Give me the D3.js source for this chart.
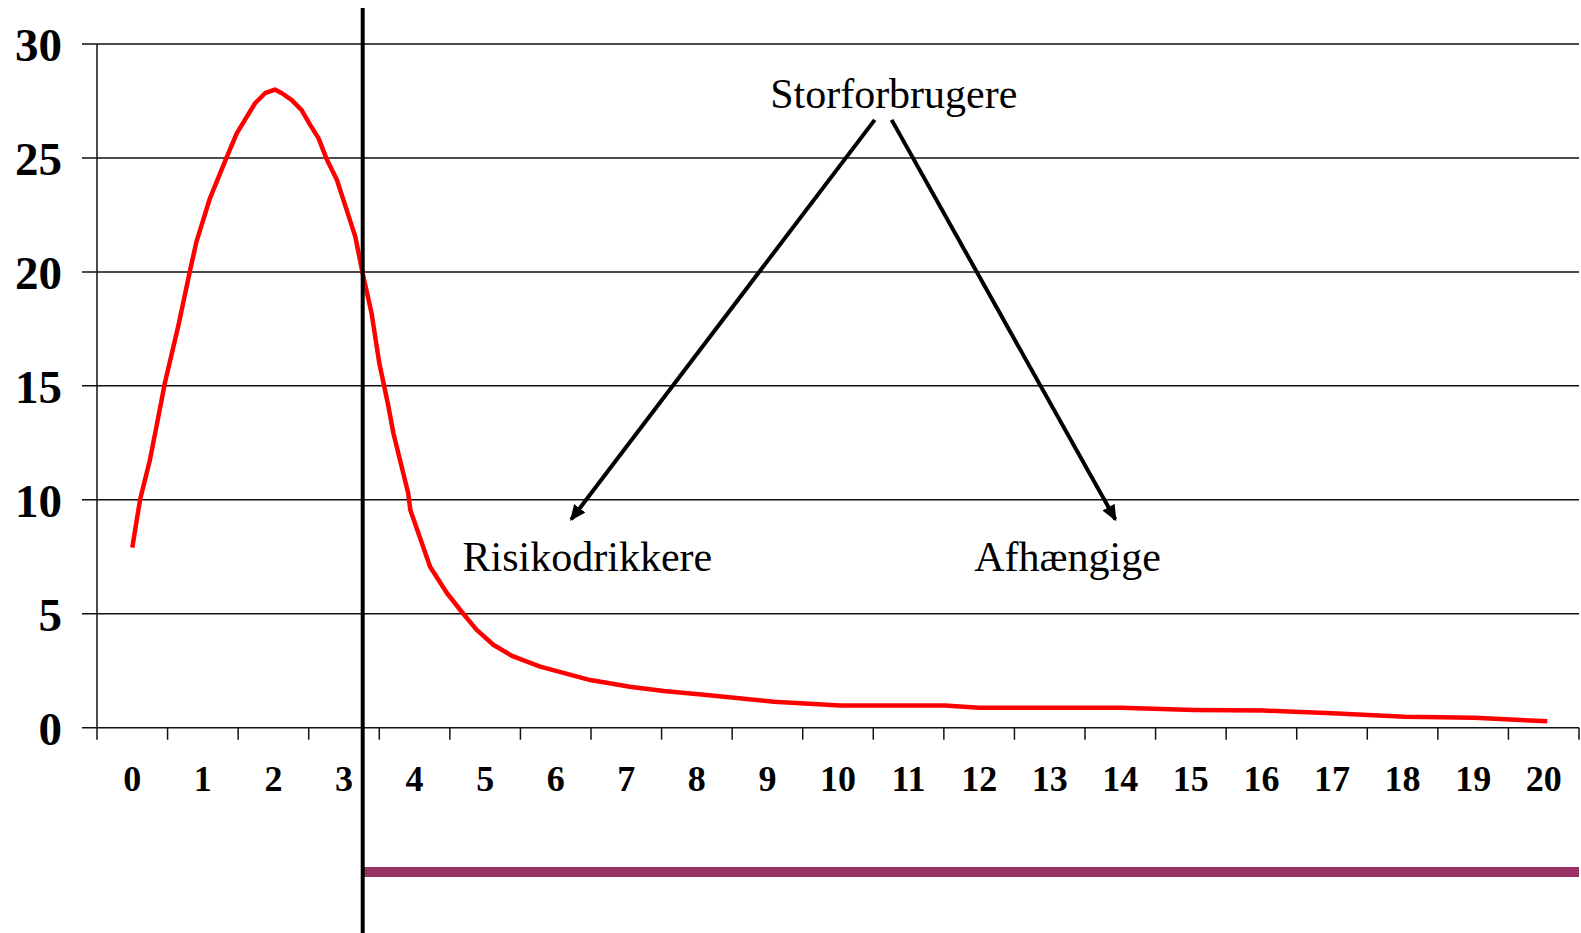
<!DOCTYPE html>
<html>
  <head>
    <meta charset="utf-8">
    <title>Storforbrugere</title>
    <style>
      body { margin: 0; background: #fff; }
      .grid line { stroke: #111; stroke-width: 1.5px; }
      .ylab { font-family: "Liberation Serif", serif; font-weight: bold; font-size: 47px; }
      .xlab { font-family: "Liberation Serif", serif; font-weight: bold; font-size: 36px; }
      .note { font-family: "Liberation Serif", serif; font-size: 42px; }
    </style>
    <script src="https://d3js.org/d3.v7.min.js"></script>
  </head>
  <body>
  <script type="text/javascript">
    // categories on the x axis
    var categories = d3.range(0, 21).map(String);
    var yTicks = [0, 5, 10, 15, 20, 25, 30];

    // red curve (x in category units)
    var curveX = [0, 0.11, 0.25, 0.37, 0.46, 0.65, 0.75, 0.82, 0.91, 1.10, 1.34, 1.48, 1.74, 1.88, 2.02,
                  2.12, 2.26, 2.40, 2.52, 2.64, 2.75, 2.90, 3.04, 3.16, 3.26, 3.39, 3.50, 3.63, 3.70, 3.91,
                  3.94, 4.22, 4.46, 4.69, 4.88, 5.12, 5.38, 5.78, 6.49, 7.05, 7.53, 8.14, 9.09, 10.03, 11.51,
                  12.0, 14.01, 15.04, 16.03, 17.0, 18.03, 19.02, 20.05];
    var curveY = [7.9, 10.0, 11.75, 13.65, 15.1, 17.6, 19.06, 20.08, 21.33, 23.23, 25.05, 26.08, 27.4, 27.84, 28.0,
                  27.84, 27.54, 27.1, 26.45, 25.86, 24.98, 24.03, 22.7, 21.55, 20.0, 18.2, 16.0, 14.09, 12.92, 10.29,
                  9.55, 7.06, 5.9, 5.0, 4.29, 3.63, 3.15, 2.68, 2.09, 1.80, 1.61, 1.43, 1.14, 0.97, 0.97,
                  0.88, 0.88, 0.78, 0.75, 0.63, 0.48, 0.44, 0.28];

    // cut-off line where the curve passes 20
    var cutoff = 3.265;

    // annotation texts and arrows (in data units)
    var labels = ["Storforbrugere", "Risikodrikkere", "Afhængige"];
    var labelX = [10.79, 4.68, 11.93];
    var labelY = [27.18, 6.89, 6.89];
    var arrowFrom = [[10.52, 26.67], [10.76, 26.67]];
    var arrowTo = [[6.22, 9.14], [13.93, 9.14]];

    var width = 1581, height = 933;
    var plotLeft = 97, plotRight = 1579, plotTop = 44, plotBottom = 727.7;

    var svg = d3.select("body").append("svg")
        .attr("width", width)
        .attr("height", height);

    var xBand = d3.scaleBand().domain(categories).range([plotLeft, plotRight]);
    var x = d3.scaleLinear().domain([-0.5, 20.5]).range([plotLeft, plotRight]);
    var y = d3.scaleLinear().domain([0, 30]).range([plotBottom, plotTop]);

    // gridlines + y ticks
    svg.append("g").attr("class", "grid")
       .selectAll("line").data(yTicks).enter().append("line")
         .attr("x1", plotLeft - 15).attr("x2", plotRight)
         .attr("y1", function(d){ return y(d); })
         .attr("y2", function(d){ return y(d); });

    // y axis line
    svg.append("line")
       .attr("x1", plotLeft).attr("x2", plotLeft).attr("y1", plotTop).attr("y2", plotBottom)
       .attr("stroke", "#111").attr("stroke-width", 1.5);

    // x ticks between categories
    var bounds = d3.range(0, categories.length + 1).map(function(i){ return plotLeft + i * xBand.step(); });
    svg.append("g").attr("class", "grid")
       .selectAll("line").data(bounds).enter().append("line")
         .attr("x1", function(d){ return d; }).attr("x2", function(d){ return d; })
         .attr("y1", plotBottom).attr("y2", plotBottom + 12);

    // y labels
    svg.append("g").selectAll("text").data(yTicks).enter().append("text")
       .attr("class", "ylab")
       .attr("x", 62)
       .attr("y", function(d){ return y(d); })
       .attr("dy", "0.36em")
       .attr("text-anchor", "end")
       .text(function(d){ return d; });

    // x labels
    svg.append("g").selectAll("text").data(categories).enter().append("text")
       .attr("class", "xlab")
       .attr("x", function(d){ return xBand(d) + xBand.bandwidth() / 2; })
       .attr("y", 791)
       .attr("text-anchor", "middle")
       .text(function(d){ return d; });

    // red curve
    var pts = curveX.map(function(v, i){ return [v, curveY[i]]; });
    var line = d3.line()
        .x(function(d){ return x(d[0]); })
        .y(function(d){ return y(d[1]); });
    svg.append("path")
       .datum(pts)
       .attr("d", line)
       .attr("fill", "none")
       .attr("stroke", "#ff0000")
       .attr("stroke-width", 4.5)
       .attr("stroke-linejoin", "round");

    // purple bar
    svg.append("rect")
       .attr("x", x(cutoff)).attr("y", 867)
       .attr("width", plotRight - x(cutoff)).attr("height", 10)
       .attr("fill", "#993366");

    // vertical cutoff line
    svg.append("line")
       .attr("x1", x(cutoff)).attr("x2", x(cutoff))
       .attr("y1", 8).attr("y2", height)
       .attr("stroke", "#000").attr("stroke-width", 4);

    // arrows
    svg.append("defs").append("marker")
       .attr("id", "head")
       .attr("markerUnits", "userSpaceOnUse")
       .attr("viewBox", "0 -7 16 14")
       .attr("refX", 14).attr("refY", 0)
       .attr("markerWidth", 16).attr("markerHeight", 14)
       .attr("orient", "auto")
       .append("path").attr("d", "M0,-7L16,0L0,7Z").attr("fill", "#000");

    svg.append("g").selectAll("line").data(arrowFrom).enter().append("line")
       .attr("x1", function(d){ return x(d[0]); })
       .attr("y1", function(d){ return y(d[1]); })
       .attr("x2", function(d, i){ return x(arrowTo[i][0]); })
       .attr("y2", function(d, i){ return y(arrowTo[i][1]); })
       .attr("stroke", "#000").attr("stroke-width", 4)
       .attr("marker-end", "url(#head)");

    // annotation labels
    svg.append("g").selectAll("text").data(labels).enter().append("text")
       .attr("class", "note")
       .attr("x", function(d, i){ return x(labelX[i]); })
       .attr("y", function(d, i){ return y(labelY[i]); })
       .attr("text-anchor", function(d, i){ return i == 0 ? "middle" : "start"; })
       .text(function(d){ return d; });
  </script>
  </body>
</html>
